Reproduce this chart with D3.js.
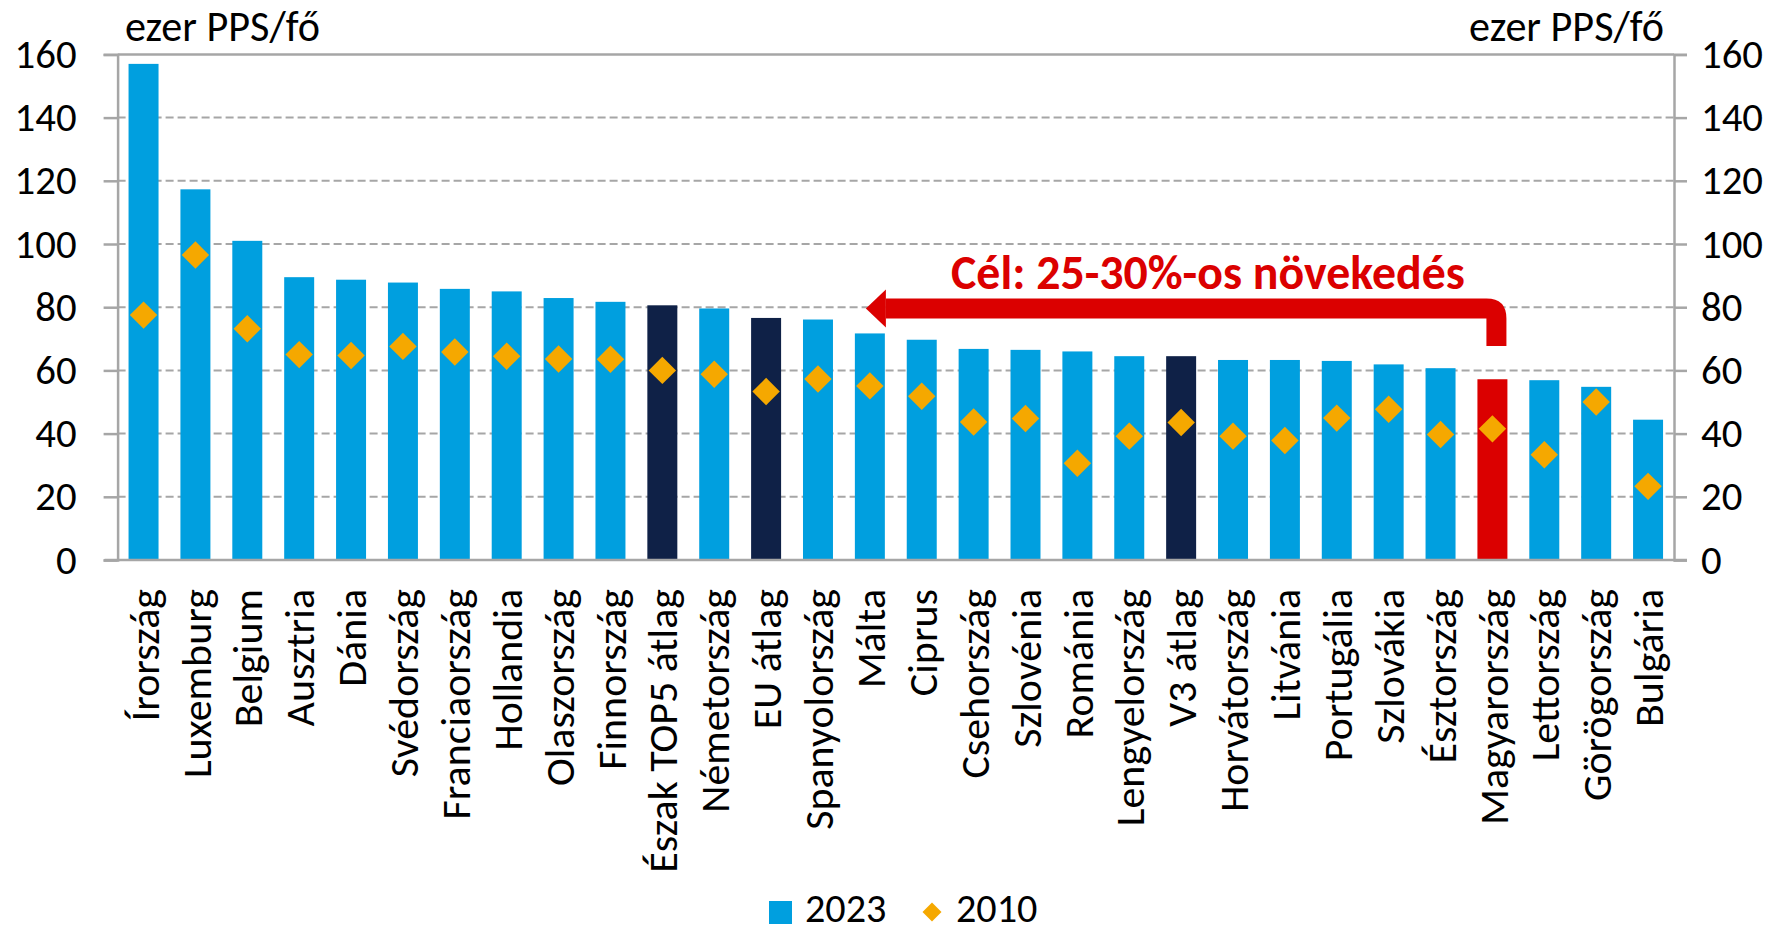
<!DOCTYPE html>
<html>
<head>
<meta charset="utf-8">
<script src="https://cdn.jsdelivr.net/npm/d3@7"></script>
<style>
  html, body { margin: 0; padding: 0; background: #fff; }
  svg { display: block; }
  text { font-family: Carlito, Calibri, Lato, sans-serif; fill: #000; }
</style>
</head>
<body>
<svg id="chart" width="1781" height="929"></svg>
<script>
// ---- data ----
const categories = ["Írország","Luxemburg","Belgium","Ausztria","Dánia","Svédország","Franciaország","Hollandia","Olaszország","Finnország","Észak TOP5 átlag","Németország","EU átlag","Spanyolország","Málta","Ciprus","Csehország","Szlovénia","Románia","Lengyelország","V3 átlag","Horvátország","Litvánia","Portugália","Szlovákia","Észtország","Magyarország","Lettország","Görögország","Bulgária"];
const values2023 = [157.0,117.3,101.0,89.5,88.7,87.8,85.8,85.0,82.9,81.7,80.6,79.6,76.6,76.1,71.7,69.7,66.8,66.5,66.0,64.5,64.5,63.3,63.3,63.0,61.9,60.7,57.2,56.9,54.8,44.4];
const values2010 = [77.5,96.5,73.2,65.0,64.7,67.6,65.8,64.5,63.6,63.5,60.0,58.8,53.3,57.3,55.1,51.8,43.7,44.8,30.6,39.2,43.5,39.2,37.8,44.9,47.7,39.7,41.5,33.3,50.0,23.3];
const averageCategories = ["Észak TOP5 átlag","EU átlag","V3 átlag"];
const highlightCategory = "Magyarország";
const yTicks = [0,20,40,60,80,100,120,140,160];
const seriesNames = ["2023","2010"];
const unitLabel = "ezer PPS/fő";
const targetText = "Cél: 25-30%-os növekedés";
const arrowFrom = "Magyarország";
const arrowTo = "Málta";

// ---- layout ----
const FONT = "Carlito, Calibri, Lato, sans-serif";
const svg = d3.select("#chart");
const L = 117.6, R = 1674, T = 54.4, B = 560;
const colBlue = "#009FDF", colNavy = "#0F2147", colRed = "#DB0000", colGold = "#F5A800", colGrid = "#A6A6A6";

// font calibration: find the size at which a string has a given pixel width
function fitSize(samples, bold) {
  const probe = svg.append("text").attr("font-size", 40).attr("font-family", FONT)
    .attr("font-weight", bold ? "bold" : "normal");
  let ratio = 0;
  samples.forEach(([s, w]) => { probe.text(s); ratio += w / probe.node().getComputedTextLength(); });
  probe.remove();
  return 40 * ratio / samples.length;
}
const tickFs = fitSize([["160", 62], ["100", 62]]);
const catFs = fitSize([["Írország", 132], ["Luxemburg", 189], ["Németország", 225], ["Spanyolország", 245], ["EU átlag", 137], ["Észak TOP5 átlag", 285]]);
const unitFs = fitSize([[unitLabel, 195]]);
const legFs = fitSize([["2023", 82], ["2010", 81]]);
const noteFs = fitSize([[targetText, 514]], true);

const x = d3.scaleBand().domain(categories).range([L, R]).paddingInner(0.422).paddingOuter(0.211);
const y = d3.scaleLinear().domain([0, 160]).range([B, T]);

const data = categories.map((c, i) => ({c, v23: values2023[i], v10: values2010[i]}));

// gridlines (dashed)
svg.append("g").selectAll("line").data(yTicks.filter(t => t > 0 && t < 160)).join("line")
  .attr("x1", L).attr("x2", R).attr("y1", d => y(d)).attr("y2", d => y(d))
  .attr("stroke", colGrid).attr("stroke-width", 2).attr("stroke-dasharray", "8,4");

// top border
svg.append("line").attr("x1", L).attr("x2", R).attr("y1", y(160)).attr("y2", y(160))
  .attr("stroke", colGrid).attr("stroke-width", 2.5);

// bars
svg.append("g").selectAll("rect").data(data).join("rect")
  .attr("x", d => x(d.c)).attr("width", x.bandwidth())
  .attr("y", d => y(d.v23)).attr("height", d => y(0) - y(d.v23))
  .attr("fill", d => d.c === highlightCategory ? colRed : (averageCategories.includes(d.c) ? colNavy : colBlue));

// axes
const leftAxis = d3.axisLeft(y).tickValues(yTicks).tickSize(14).tickPadding(27);
const rightAxis = d3.axisRight(y).tickValues(yTicks).tickSize(13).tickPadding(14);
function styleAxis(g) {
  g.select(".domain").attr("stroke", colGrid).attr("stroke-width", 2.5);
  g.selectAll(".tick line").attr("stroke", colGrid).attr("stroke-width", 2.5);
  g.selectAll(".tick text").attr("font-size", tickFs).attr("font-family", FONT).attr("fill", "#000");
}
svg.append("g").attr("transform", `translate(${L},0)`).call(leftAxis).call(styleAxis);
svg.append("g").attr("transform", `translate(${R},0)`).call(rightAxis).call(styleAxis);

// bottom axis
const bottomAxis = d3.axisBottom(x).tickSize(0).tickPadding(0);
const gb = svg.append("g").attr("transform", `translate(0,${B})`).call(bottomAxis);
gb.select(".domain").attr("stroke", colGrid).attr("stroke-width", 2.5).attr("d", `M${L - 13},0H${R + 13}`);
gb.selectAll(".tick text")
  .attr("font-size", catFs).attr("font-family", FONT).attr("fill", "#000")
  .attr("text-anchor", "end").attr("transform", "translate(0,29) rotate(-90)")
  .attr("x", 0).attr("y", 0).attr("dy", "0.36em");

// diamonds (2010)
const sym = d3.symbol().type(d3.symbolDiamond2).size(480);
svg.append("g").selectAll("path").data(data).join("path")
  .attr("d", sym)
  .attr("transform", d => `translate(${x(d.c) + x.bandwidth() / 2},${y(d.v10)})`)
  .attr("fill", colGold);

// unit labels
svg.append("text").attr("x", 125).attr("y", 41).attr("font-size", unitFs).text(unitLabel);
svg.append("text").attr("x", 1664).attr("y", 41).attr("font-size", unitFs).attr("text-anchor", "end").text(unitLabel);

// arrow annotation
const ay = y(79.6);
const tipX = x(arrowTo) + 11;
const legX = x(arrowFrom) + x.bandwidth() / 2 + 4;
const th = 20, r = 20, legBottom = y(67.7);
const arrow = d3.path();
arrow.moveTo(tipX + 20, ay - th / 2);
arrow.lineTo(legX + th / 2 - r, ay - th / 2);
arrow.quadraticCurveTo(legX + th / 2, ay - th / 2, legX + th / 2, ay - th / 2 + r);
arrow.lineTo(legX + th / 2, legBottom);
arrow.lineTo(legX - th / 2, legBottom);
arrow.lineTo(legX - th / 2, ay + th / 2);
arrow.lineTo(tipX + 20, ay + th / 2);
arrow.closePath();
svg.append("path").attr("d", arrow.toString()).attr("fill", colRed);
svg.append("path")
  .attr("d", `M${tipX},${ay} L${tipX + 20},${ay - 19} L${tipX + 20},${ay + 19} Z`)
  .attr("fill", colRed);

svg.append("text").attr("x", 951).attr("y", 289)
  .attr("font-size", noteFs).attr("font-weight", "bold").style("fill", colRed).text(targetText);

// legend
svg.append("rect").attr("x", 769).attr("y", 901).attr("width", 23).attr("height", 23).attr("fill", colBlue);
svg.append("text").attr("x", 805).attr("y", 922).attr("font-size", legFs).text(seriesNames[0]);
svg.append("path").attr("d", d3.symbol().type(d3.symbolDiamond2).size(230)).attr("transform", "translate(932,912)").attr("fill", colGold);
svg.append("text").attr("x", 956).attr("y", 922).attr("font-size", legFs).text(seriesNames[1]);
</script>
</body>
</html>
